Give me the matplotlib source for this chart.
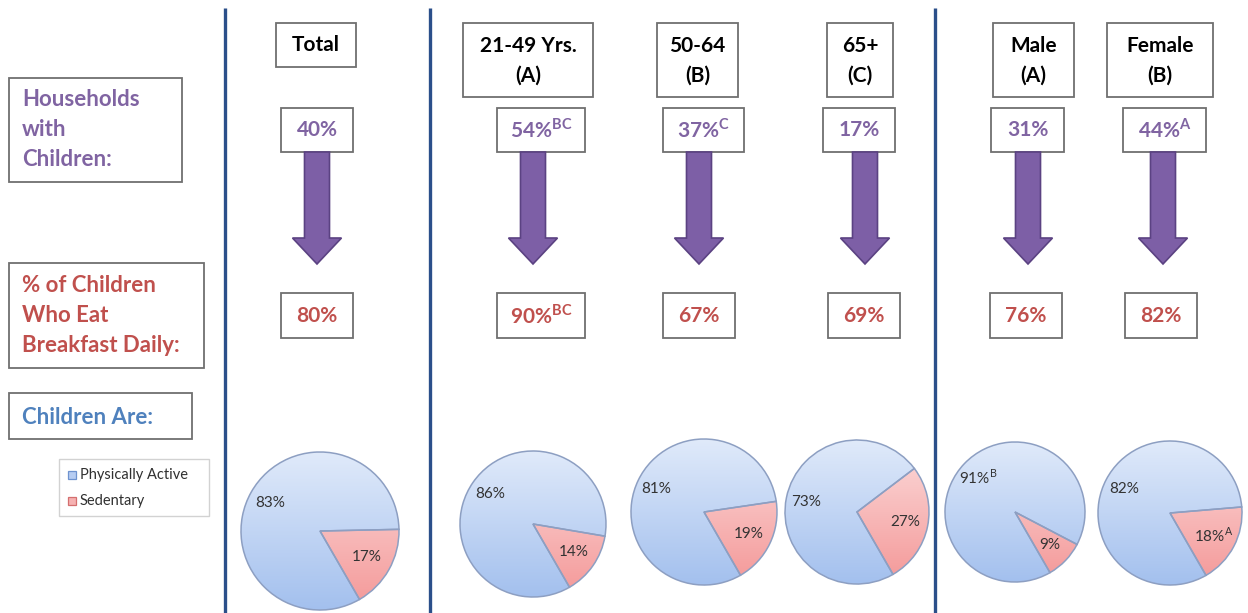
import matplotlib
matplotlib.use('Agg')
import matplotlib.pyplot as plt
from matplotlib.patches import Rectangle, FancyArrow
from matplotlib.colors import LinearSegmentedColormap
import numpy as np

plt.rcParams['font.family'] = ['Lato', 'DejaVu Sans']
plt.rcParams['mathtext.fontset'] = 'custom'
plt.rcParams['mathtext.rm'] = 'Lato'
plt.rcParams['mathtext.bf'] = 'Lato:bold'

# ---------------- data ----------------
groups = [['Total'], ['21-49 Yrs.', '(A)'], ['50-64', '(B)'], ['65+', '(C)'],
          ['Male', '(A)'], ['Female', '(B)']]
households = [40, 54, 37, 17, 31, 44]
households_sup = ['', 'BC', 'C', '', '', 'A']
breakfast = [80, 90, 67, 69, 76, 82]
breakfast_sup = ['', 'BC', '', '', '', '']
active = [83, 86, 81, 73, 91, 82]
active_sup = ['', '', '', '', 'B', '']
sedentary = [17, 14, 19, 27, 9, 18]
sedentary_sup = ['', '', '', '', '', 'A']
row_households = ['Households', 'with', 'Children:']
row_breakfast = ['% of Children', 'Who Eat', 'Breakfast Daily:']
row_children = ['Children Are:']
legend_labels = ['Physically Active', 'Sedentary']

# ---------------- layout (image pixels) ----------------
W, H = 1248, 613
PURPLE = '#8064a2'
RED = '#c0504d'
BLUE = '#4f81bd'
BOXEDGE = '#6f6f6f'
LINE = '#2b4f8a'

header_box = [(276, 356, 23, 67), (463, 593, 23, 97), (657, 738, 23, 97),
              (827, 893, 23, 97), (993, 1074, 23, 97), (1107, 1213, 23, 97)]
hh_box = [(281, 353), (497, 585), (663, 744), (823, 895), (991, 1064), (1123, 1206)]
hh_y = (108, 152)
arrow_x = [317, 533, 699, 865, 1028, 1163]
bf_box = [(281, 353), (497, 585), (663, 735), (828, 900), (990, 1062), (1125, 1197)]
bf_y = (293, 338)
pie_geom = [(320, 531, 79), (533, 524, 73), (704, 512, 73), (857, 512, 72),
            (1015, 512, 70), (1170, 513, 72)]

fig = plt.figure(figsize=(W / 100, H / 100), dpi=100)
ax = fig.add_axes([0, 0, 1, 1])
ax.set_axis_off()


def Y(y):
    return H - y


def box(x0, x1, y0, y1, ec=BOXEDGE, lw=1.3, z=2):
    ax.add_patch(Rectangle((x0, Y(y1)), x1 - x0, y1 - y0, facecolor='white',
                           edgecolor=ec, linewidth=lw, zorder=z))


def label(v, s):
    t = f"{v}%"
    if s:
        t += r"$^{\mathregular{" + s + "}}$"
    return t


# vertical separators
for x in (225, 430, 935):
    ax.plot([x, x], [Y(8), Y(613)], color=LINE, lw=2.4, solid_capstyle='butt', zorder=1)

# left row labels
box(9, 182, 78, 182)
for i, t in enumerate(row_households):
    ax.text(22, Y(99 + 30 * i), t, color=PURPLE, fontsize=16, fontweight='bold',
            ha='left', va='center', zorder=5)
box(9, 204, 263, 368)
for i, t in enumerate(row_breakfast):
    ax.text(22, Y(286 + 30 * i), t, color=RED, fontsize=16, fontweight='bold',
            ha='left', va='center', zorder=5)
box(9, 192, 393, 439)
ax.text(22, Y(417), row_children[0], color=BLUE, fontsize=16, fontweight='bold',
        ha='left', va='center', zorder=5)

# legend
box(59, 209, 459, 516, ec='#d2d2d2', lw=1.0)
leg_cols = [('#b7cdf2', '#6f93cf'), ('#f6b2b2', '#d46f6f')]
for i, (t, (fc, ec)) in enumerate(zip(legend_labels, leg_cols)):
    yy = 475 + 26 * i
    ax.add_patch(Rectangle((68, Y(yy + 4)), 8, 8, facecolor=fc, edgecolor=ec,
                           lw=0.9, zorder=5))
    ax.text(80, Y(yy), t, fontsize=10.5, color='#303030', ha='left', va='center', zorder=5)

# group columns
for i in range(len(groups)):
    x0, x1, y0, y1 = header_box[i]
    box(x0, x1, y0, y1)
    cx = (x0 + x1) / 2
    lines = groups[i]
    if len(lines) == 1:
        ax.text(cx, Y(45), lines[0], fontsize=15, fontweight='bold', color='black',
                ha='center', va='center', zorder=5)
    else:
        ax.text(cx, Y(46), lines[0], fontsize=15, fontweight='bold', color='black',
                ha='center', va='center', zorder=5)
        ax.text(cx, Y(76), lines[1], fontsize=15, fontweight='bold', color='black',
                ha='center', va='center', zorder=5)

    # households box
    a, b = hh_box[i]
    box(a, b, hh_y[0], hh_y[1])
    ax.text((a + b) / 2, Y((hh_y[0] + hh_y[1]) / 2), label(households[i], households_sup[i]),
            fontsize=15, fontweight='bold', color=PURPLE, ha='center', va='center', zorder=5)

    # arrow
    ax.add_patch(FancyArrow(arrow_x[i], Y(hh_y[1]), 0, -(264 - hh_y[1]), width=25,
                            head_width=49, head_length=26, length_includes_head=True,
                            facecolor='#7d5fa6', edgecolor='#5b4282', lw=1.2, zorder=3))

    # breakfast box
    a, b = bf_box[i]
    box(a, b, bf_y[0], bf_y[1])
    ax.text((a + b) / 2, Y((bf_y[0] + bf_y[1]) / 2), label(breakfast[i], breakfast_sup[i]),
            fontsize=15, fontweight='bold', color=RED, ha='center', va='center', zorder=5)

    # pie
    pcx, pcy, r = pie_geom[i]
    wedges, _ = ax.pie([sedentary[i], active[i]], startangle=-60, counterclock=True,
                       center=(pcx, Y(pcy)), radius=r,
                       wedgeprops=dict(edgecolor='#8d9fc2', linewidth=1.1))
    grads = [('#f49898', '#fcdcdc'), ('#a3c0ee', '#e0eafa')]
    for w, (cb, ct) in zip(wedges, grads):
        cmap = LinearSegmentedColormap.from_list('g', [cb, ct])
        im = ax.imshow(np.linspace(0, 1, 256).reshape(-1, 1), cmap=cmap,
                       extent=[pcx - r, pcx + r, Y(pcy) - r, Y(pcy) + r],
                       origin='lower', aspect='auto', interpolation='bilinear', zorder=2)
        im.set_clip_path(w)
        w.set_facecolor('none')
        w.set_zorder(3)
    texts = [label(sedentary[i], sedentary_sup[i]), label(active[i], active_sup[i])]
    dists = [0.68, 0.72]
    for w, t, d in zip(wedges, texts, dists):
        ang = np.deg2rad((w.theta1 + w.theta2) / 2)
        ax.text(pcx + d * r * np.cos(ang), Y(pcy) + d * r * np.sin(ang), t,
                fontsize=11, color='#333333', ha='center', va='center', zorder=6)

ax.set_xlim(0, W)
ax.set_ylim(0, H)
ax.set_aspect('equal')
ax.set_axis_off()
fig.savefig('out.png', dpi=100, facecolor='white')
